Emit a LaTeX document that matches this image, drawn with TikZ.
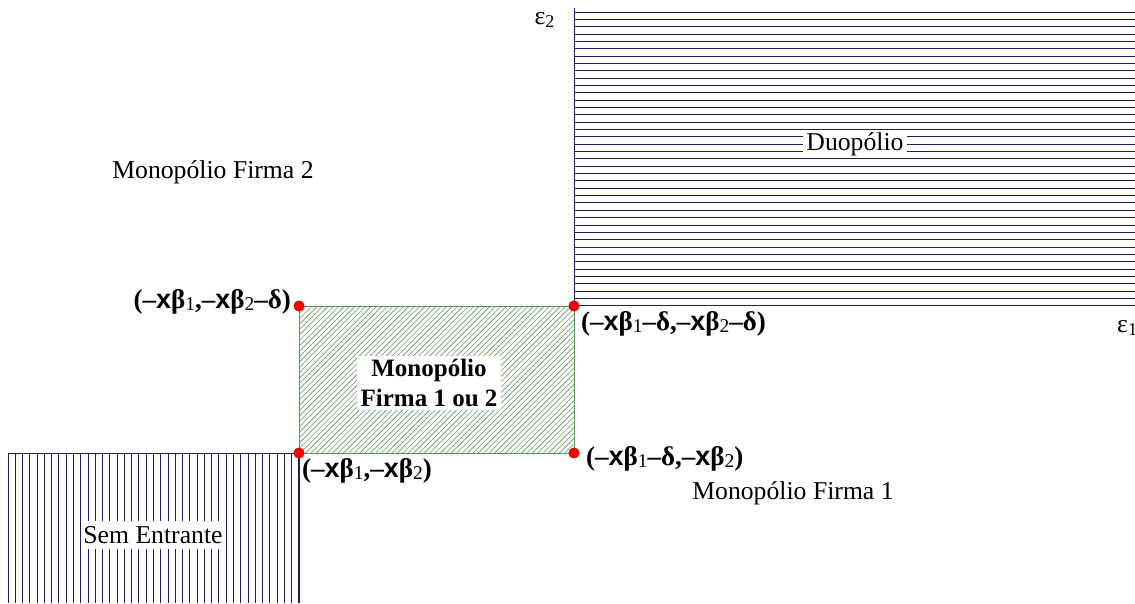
\documentclass[tikz,border=0pt]{standalone}
\usepackage{fontspec}
\setmainfont{Liberation Serif}
\setsansfont{Liberation Sans}
\definecolor{navy}{RGB}{28,28,96}
\definecolor{hgreen}{RGB}{90,155,90}
\tikzset{
  hl/.style={draw=navy,line width=1pt},
  gh/.style={draw=hgreen,line width=0.6pt},
  reg/.style={font=\fontsize{25.7}{30}\selectfont,inner sep=2pt},
  lab/.style={font=\fontsize{27}{30}\selectfont\bfseries,inner sep=0pt},
  mid/.style={font=\fontsize{25}{30}\selectfont\bfseries,align=center,fill=white,inner xsep=4pt,inner ysep=3pt},
  dot/.style={circle,fill=red,draw=red!60!black,line width=0.4pt,inner sep=0pt,minimum size=10.5pt}
}
\newcommand{\bx}{{\sffamily x}}
\newcommand{\bt}[1]{β\raisebox{-1.5pt}{\fontsize{19.5}{20}\selectfont\mdseries #1}}
\newcommand{\mn}{–}

\begin{document}
\begin{tikzpicture}[x=1pt,y=-1pt]
\useasboundingbox (0,0) rectangle (1135,603);
\coordinate (ul) at (299,306); \coordinate (ur) at (574,306);
\coordinate (ll) at (299,453); \coordinate (lr) at (574,453);
% duopolio region
\foreach \i in {0,...,40} \draw[hl] (574,12+\i*7.345) -- (1135,12+\i*7.345);
\draw[hl] (574,8) -- (ur);
% sem entrante region
\foreach \i in {0,...,40} \draw[hl] (8+\i*7.275,453) -- (8+\i*7.275,603);
\draw[hl] (8,453) -- (ll);
\draw[hl,line width=1.6pt] (ll) -- (299,603);
% monopolio 1 ou 2
\begin{scope}
\clip (ul) rectangle (lr);
\foreach \i in {0,...,80} \draw[gh] (149+\i*5.4,453) -- ++(150,-150);
\end{scope}
\draw[hgreen,line width=0.9pt] (ul) rectangle (lr);
\node[reg] (m2) at (213,172) {Monopólio Firma 2};
\node[reg] (m1) at (793,493) {Monopólio Firma 1};
\node[reg,fill=white,inner xsep=3pt,inner ysep=1pt] (duo) at (855,144) {Duopólio};
\node[reg,fill=white,inner ysep=5pt] (sem) at (153,535) {Sem Entrante};
\node[mid] (m12) at (429,383) {Monopólio\\Firma 1 ou 2};
\node[reg,anchor=east] (e2) at (557,20) {ε\textsubscript{2}};
\node[reg,anchor=west] (e1) at (1115,328) {ε\textsubscript{1}};
\foreach \c in {ul,ur,ll,lr} \node[dot] (d\c) at (\c) {};
\node[lab,anchor=east] (tul) at (291,302) {(\mn\bx\bt{1},\mn\bx\bt{2}\mn δ)};
\node[lab,anchor=west] (tur) at (581,324) {(\mn\bx\bt{1}\mn δ,\mn\bx\bt{2}\mn δ)};
\node[lab,anchor=west] (tll) at (302,471) {(\mn\bx\bt{1},\mn\bx\bt{2})};
\node[lab,anchor=west] (tlr) at (586,459) {(\mn\bx\bt{1}\mn δ,\mn\bx\bt{2})};
\end{tikzpicture}
\end{document}
